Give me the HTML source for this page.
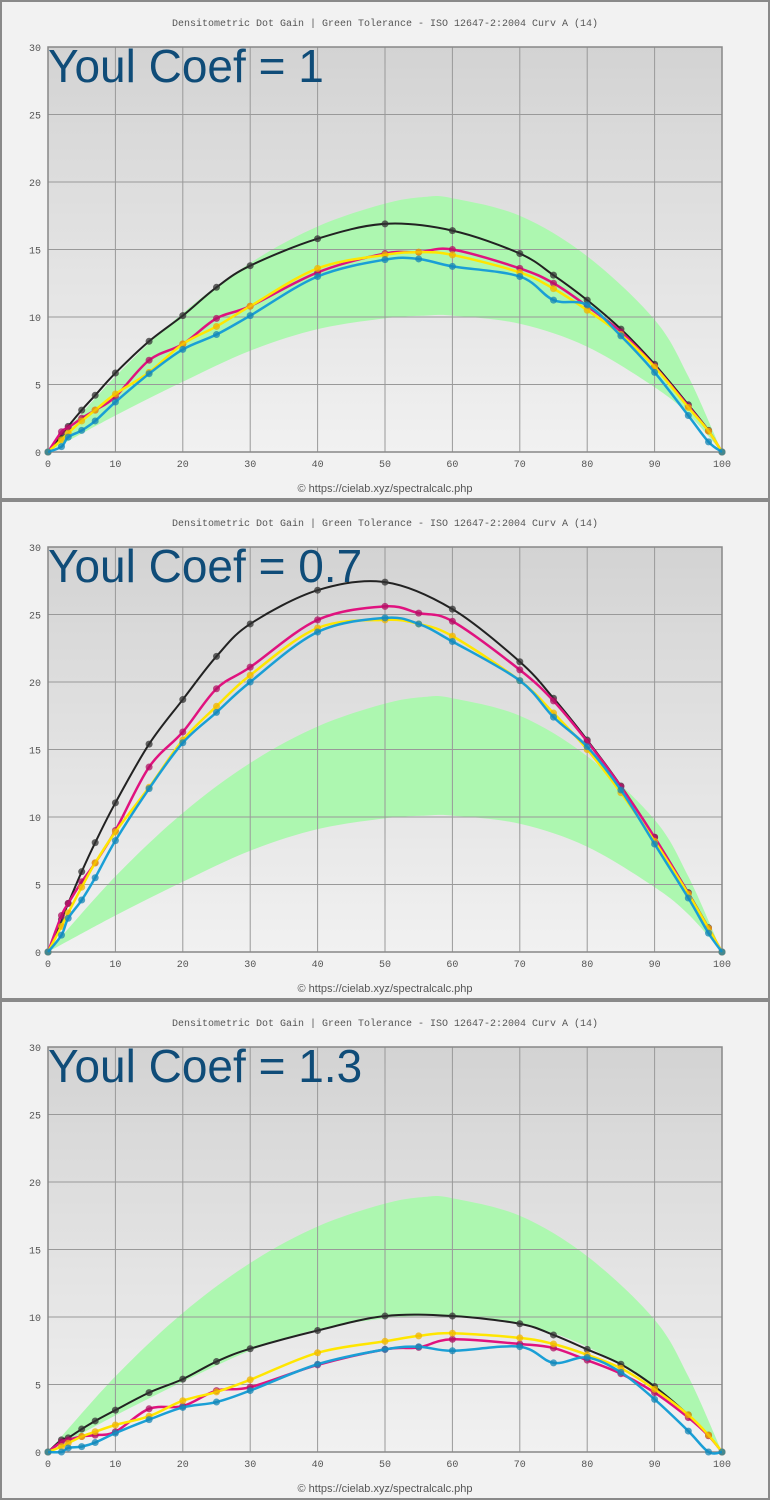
<!DOCTYPE html>
<html><head><meta charset="utf-8">
<style>
html,body{margin:0;padding:0;background:#f2f2f2;}
svg{display:block;}
</style></head>
<body>
<svg id="root" width="770" height="1500" xmlns="http://www.w3.org/2000/svg">
<defs>
<linearGradient id="plotbg" x1="0" y1="0" x2="0" y2="1">
<stop offset="0" stop-color="#d3d3d3"/><stop offset="1" stop-color="#f1f1f1"/>
</linearGradient>
</defs>
</svg>
<script>
// shared data
const tickX = [0,10,20,30,40,50,60,70,80,90,100];
const tickY = [0,5,10,15,20,25,30];
const bandX = [0,10,20,30,40,50,56,60,70,80,90,95,100];
const bandUpper = [0,5.6,10.3,14.0,16.7,18.4,18.9,18.8,17.5,14.5,9.8,5.6,0];
const bandLower = [0,2.7,5.2,7.5,9.1,9.9,10.1,10.1,9.5,7.8,4.8,2.8,0];
const cmyX = [0,2,3,5,7,10,15,20,25,30,40,50,55,60,70,75,80,85,90,95,98,100];
const kX = [0,2,3,5,7,10,15,20,25,30,40,50,60,70,75,80,85,90,95,98,100];
const panelTitles = ["Youl Coef = 1","Youl Coef = 0.7","Youl Coef = 1.3"];
// panel 1
const p1K = [0,1.25,1.9,3.1,4.2,5.85,8.2,10.1,12.2,13.8,15.8,16.9,16.4,14.7,13.1,11.25,9.1,6.5,3.5,1.6,0];
const p1M = [0,1.5,1.8,2.5,3.1,4.1,6.8,8.0,9.9,10.8,13.3,14.7,14.8,15.0,13.6,12.5,10.8,8.9,6.35,3.4,1.55,0];
const p1Y = [0,0.9,1.4,2.3,3.1,4.3,5.9,8.0,9.3,10.8,13.6,14.6,14.8,14.6,13.3,12.1,10.5,8.7,6.3,3.3,1.55,0];
const p1C = [0,0.4,1.1,1.6,2.3,3.7,5.8,7.6,8.7,10.1,13.0,14.25,14.3,13.75,13.0,11.25,10.9,8.6,5.9,2.7,0.75,0];
// panel 2
const p2K = [0,2.4,3.6,5.95,8.1,11.05,15.4,18.7,21.9,24.3,26.8,27.4,25.4,21.5,18.8,15.7,12.3,8.5,4.4,1.8,0];
const p2M = [0,2.7,3.6,5.2,6.6,9.0,13.7,16.3,19.5,21.1,24.6,25.6,25.1,24.5,20.9,18.6,15.6,12.25,8.5,4.35,1.75,0];
const p2Y = [0,1.9,2.9,4.8,6.6,8.9,12.2,15.7,18.2,20.5,24.0,24.6,24.3,23.4,20.1,17.7,15.0,11.8,8.2,4.3,1.75,0];
const p2C = [0,1.25,2.5,3.85,5.5,8.25,12.1,15.5,17.75,20.0,23.7,24.75,24.3,23.0,20.1,17.4,15.2,12.0,8.0,4.0,1.4,0];
// panel 3
const p3K = [0,0.9,1.05,1.7,2.3,3.1,4.4,5.4,6.7,7.65,9.0,10.07,10.07,9.5,8.67,7.6,6.5,4.85,2.75,1.25,0];
const p3M = [0,0.75,0.9,1.15,1.25,1.5,3.2,3.4,4.55,4.8,6.45,7.6,7.75,8.35,8.0,7.7,6.8,5.8,4.4,2.55,1.2,0];
const p3Y = [0,0.4,0.65,1.15,1.5,2.0,2.65,3.8,4.45,5.35,7.35,8.2,8.6,8.8,8.45,8.0,7.2,6.2,4.65,2.75,1.25,0];
const p3C = [0,0,0.3,0.4,0.7,1.4,2.4,3.3,3.7,4.55,6.5,7.6,7.8,7.5,7.8,6.6,7.0,5.9,3.9,1.55,0,0];

const panels = [[p1K,p1M,p1Y,p1C],[p2K,p2M,p2Y,p2C],[p3K,p3M,p3Y,p3C]];
const NS = "http://www.w3.org/2000/svg";
const root = document.getElementById('root');
function mk(tag, attrs, parent){const e=document.createElementNS(NS,tag);for(const k in attrs)e.setAttribute(k,attrs[k]);parent.appendChild(e);return e;}
const PX0=48, PX1=722, PH=405, PTOP=47;
function spline(pts){
  let d="M"+pts[0][0].toFixed(2)+","+pts[0][1].toFixed(2);
  for(let i=0;i<pts.length-1;i++){
    const p0=pts[Math.max(0,i-1)],p1=pts[i],p2=pts[i+1],p3=pts[Math.min(pts.length-1,i+2)];
    const c1x=p1[0]+(p2[0]-p0[0])/6,c1y=p1[1]+(p2[1]-p0[1])/6;
    const c2x=p2[0]-(p3[0]-p1[0])/6,c2y=p2[1]-(p3[1]-p1[1])/6;
    d+=" C"+c1x.toFixed(2)+","+c1y.toFixed(2)+" "+c2x.toFixed(2)+","+c2y.toFixed(2)+" "+p2[0].toFixed(2)+","+p2[1].toFixed(2);
  }
  return d;
}
const colors=[["#222222","#333"],["#e0127f","#b01063"],["#ffe600","#f0b400"],["#1a9fd6","#1585b5"]];
const sNames=["black","magenta","yellow","cyan"];
panels.forEach((series,pi)=>{
  const oy=pi*500;
  const g=mk('g',{},root);
  
  
  const sx=v=>PX0+(PX1-PX0)*v/100;
  const sy=v=>oy+PTOP+PH-PH*v/30;
  const bg=mk('rect',{x:1,y:oy+1,width:768,height:498,fill:'#f2f2f2',stroke:'#8a8a8a','stroke-width':2},g);
  
  
  const t=mk('text',{x:385,y:oy+26,'text-anchor':'middle','font-family':'Liberation Mono, monospace','font-size':10,fill:'#555'},g);
  t.textContent="Densitometric Dot Gain  |  Green Tolerance - ISO 12647-2:2004 Curv A (14)";
  
  
  t.setAttribute('xml:space','preserve');
  const pr=mk('rect',{x:PX0,y:oy+PTOP,width:PX1-PX0,height:PH,fill:'url(#plotbg)'},g);
  
  
  // band
  const up=bandX.map((x,i)=>[sx(x),sy(bandUpper[i])]);
  const lo=bandX.map((x,i)=>[sx(x),sy(bandLower[i])]).reverse();
  const bd=spline(up)+" L"+lo[0][0]+","+lo[0][1]+spline(lo).replace(/^M[^ ]+/,"")+" Z";
  const band=mk('path',{d:bd,fill:'#adf7b0'},g);
  
  
  // grid
  tickX.forEach(v=>{
    const l=mk('line',{x1:sx(v),x2:sx(v),y1:oy+PTOP,y2:oy+PTOP+PH,stroke:'#999','stroke-width':1},g);
    
    
    const tl=mk('text',{x:sx(v),y:oy+PTOP+PH+15,'text-anchor':'middle','font-family':'Liberation Mono, monospace','font-size':10,fill:'#555'},g);
    tl.textContent=v;
    
    
  });
  tickY.forEach(v=>{
    const l=mk('line',{x1:PX0,x2:PX1,y1:sy(v),y2:sy(v),stroke:'#999','stroke-width':1},g);
    
    
    const tl=mk('text',{x:41,y:sy(v)+4,'text-anchor':'end','font-family':'Liberation Mono, monospace','font-size':10,fill:'#555'},g);
    tl.textContent=v;
    
    
  });
  const fr=mk('rect',{x:PX0,y:oy+PTOP,width:PX1-PX0,height:PH,fill:'none',stroke:'#888','stroke-width':1.5},g);
  
  
  // series
  series.forEach((vals,si)=>{
    const xs=si===0?kX:cmyX;
    const pts=xs.map((x,i)=>[sx(x),sy(vals[i])]);
    const p=mk('path',{d:spline(pts),fill:'none',stroke:colors[si][0],'stroke-width':si===0?2:2.5},g);
    
    
    pts.forEach(pt=>{
      const c=mk('circle',{cx:pt[0],cy:pt[1],r:3.5,fill:colors[si][1],'fill-opacity':0.75},g);
      
      
    });
  });
  const big=mk('text',{x:PX0,y:oy+82,'font-family':'Liberation Sans, sans-serif','font-size':46,fill:'#0f4c78'},g);
  big.textContent=panelTitles[pi];
  
  
  const f=mk('text',{x:385,y:oy+492,'text-anchor':'middle','font-family':'Liberation Sans, sans-serif','font-size':11,fill:'#555'},g);
  f.textContent="© https://cielab.xyz/spectralcalc.php";
  
  
});
</script>
</body></html>
